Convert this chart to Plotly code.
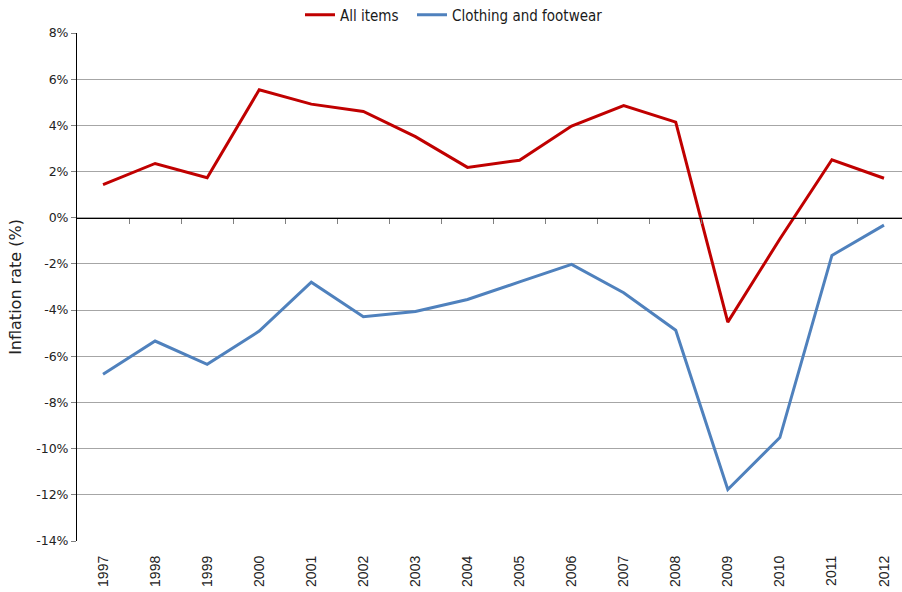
import plotly.graph_objects as go

years = ["1997", "1998", "1999", "2000", "2001", "2002", "2003", "2004",
         "2005", "2006", "2007", "2008", "2009", "2010", "2011", "2012"]
all_items = [1.43, 2.35, 1.73, 5.54, 4.92, 4.60, 3.51, 2.18,
             2.49, 3.97, 4.86, 4.14, -4.52, -0.92, 2.51, 1.71]
clothing = [-6.78, -5.34, -6.35, -4.91, -2.79, -4.29, -4.06, -3.54,
            -2.78, -2.02, -3.25, -4.87, -11.77, -9.52, -1.63, -0.32]
y_ticks = [8, 6, 4, 2, 0, -2, -4, -6, -8, -10, -12, -14]
y_tick_text = [f"{v}%" for v in y_ticks]

idx = list(range(len(years)))
x_range = [-0.5, 15.346]
legend_font = dict(family="DejaVu Sans Condensed, DejaVu Sans", size=15, color="#1a1a1a")

fig = go.Figure()
fig.add_trace(go.Scatter(x=idx, y=all_items, mode="lines", name="All items",
                         legend="legend",
                         line=dict(color="#C00000", width=3)))
fig.add_trace(go.Scatter(x=idx, y=clothing, mode="lines", name="Clothing and footwear",
                         legend="legend2",
                         line=dict(color="#4F81BD", width=3)))
# helper trace so the zero-line category axis is drawn
fig.add_trace(go.Scatter(x=[0], y=[None], xaxis="x2", showlegend=False,
                         hoverinfo="skip"))

fig.update_layout(
    width=902, height=592,
    margin=dict(l=77, r=0, t=33, b=51, autoexpand=False),
    paper_bgcolor="white", plot_bgcolor="white",
    font=dict(family="DejaVu Sans", size=12, color="#222222"),
    showlegend=True,
    legend=dict(orientation="h", xref="container", yref="container",
                x=300 / 902, y=1 - 15 / 592, xanchor="left", yanchor="middle",
                font=legend_font, bgcolor="rgba(0,0,0,0)"),
    legend2=dict(orientation="h", xref="container", yref="container",
                 x=412 / 902, y=1 - 15 / 592, xanchor="left", yanchor="middle",
                 font=legend_font, bgcolor="rgba(0,0,0,0)"),
    xaxis=dict(range=x_range, tickmode="array", tickvals=idx, ticktext=years,
               tickangle=-90, showgrid=False, zeroline=False, showline=False,
               ticks="", tickfont=dict(family="Liberation Sans", size=14, color="#222222"),
               ticklabelstandoff=11),
    xaxis2=dict(range=x_range, overlaying="x", anchor="free", position=14 / 22,
                side="bottom", showline=True, linecolor="black", linewidth=1,
                tickmode="array", tickvals=[i + 0.5 for i in range(15)],
                ticks="outside", ticklen=5, tickcolor="#808080", tickwidth=1,
                showticklabels=False, showgrid=False, zeroline=False),
    yaxis=dict(range=[-14, 8], tickmode="array", tickvals=y_ticks, ticktext=y_tick_text,
               showgrid=True, gridcolor="#A6A6A6", gridwidth=1, zeroline=False,
               showline=True, linecolor="black", linewidth=1,
               ticks="outside", ticklen=5, tickcolor="#808080",
               title=dict(text="Inflation rate (%)", font=dict(size=16, family="DejaVu Sans"),
                          standoff=10),
               tickfont=dict(family="DejaVu Sans", size=12.5, color="#222222")),
)

fig.write_html("out.html")
